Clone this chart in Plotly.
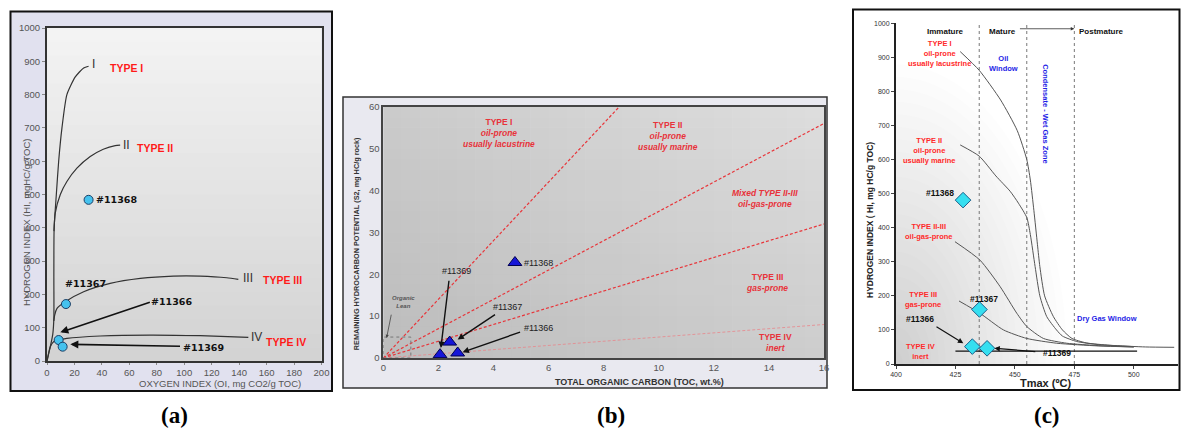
import plotly.graph_objects as go

W, H = 1181, 434

# ---------------- Panel (a) data: HI vs OI ----------------
a_t1_oi = [0, 2.4, 4.2, 5.0, 5.0, 5.2, 6.8, 8.5, 10.9, 14.5, 20.6, 26.7, 30.3]
a_t1_hi = [0, 43, 80, 130, 250, 400, 500, 600, 700, 800, 853, 880, 885]
a_t2_oi = [5.1, 6.0, 9.7, 14.5, 21.8, 31.5, 41, 49.7, 53.3]
a_t2_hi = [390, 444, 500, 539, 579, 614, 636, 647, 648]
a_t3_oi = [5.0, 5.6, 7.3, 13.3, 26.7, 46, 68, 92, 111.5, 131, 139.4]
a_t3_hi = [120, 138, 158, 178, 208, 233, 248, 255, 255, 250, 245]
a_t4_oi = [0, 2.4, 4.8, 8.5, 14.5, 38.8, 75, 111.5, 146.7]
a_t4_hi = [0, 43, 58, 63, 68, 75, 78, 76, 71]
a_samples = ["#11368", "#11367", "#11366", "#11369"]
a_oi = [30.3, 13.8, 8.5, 11.4]
a_hi = [484, 171, 63, 43]

# ---------------- Panel (b) data: S2 vs TOC ----------------
b_bound_x = [8.57, 16, 16, 16]
b_bound_y = [60, 56, 32, 8]
b_samples = ["#11368", "#11367", "#11366", "#11369"]
b_toc = [4.78, 2.41, 2.70, 2.06]
b_s2 = [22.8, 3.8, 1.2, 0.8]

# ---------------- Panel (c) data: HI vs Tmax ----------------
c_t1_x = [427, 435, 444, 451, 455, 456.5, 458, 459.5, 460.5, 462.5, 466.2, 470, 474, 480, 490, 505, 517]
c_t1_y = [917, 862, 775, 685, 600, 540, 450, 350, 286, 200, 139, 100, 75, 62, 55, 50, 49]
c_t2_x = [427, 435, 442, 448, 451.5, 455, 456.5, 458.5, 460.5, 463.4, 467.5, 470, 476, 485, 500]
c_t2_y = [643, 610, 552, 507, 472, 430, 380, 286, 200, 139, 100, 82, 66, 57, 51]
c_t23_x = [424.8, 435.3, 443.8, 450.8, 455, 462, 471.8, 485, 500]
c_t23_y = [359, 305, 227, 149, 110, 75, 61, 54, 50]
c_t3_x = [426.5, 435.3, 445.2, 455, 467.6, 485, 500]
c_t3_y = [185, 149, 100, 75, 61, 53, 50]
c_t4_x = [425, 501.4]
c_t4_y = [38, 38]
c_samples = ["#11368", "#11367", "#11366", "#11369"]
c_tmax = [428.2, 435.1, 432.1, 438.3]
c_hi = [481, 160, 51, 46]
c_zones = [435, 455, 475]


def px(x):
    return x / W


def py(y):
    return 1 - y / H


fig = go.Figure()

# ---- traces panel a ----
curve_a = dict(color="#333333", width=1.2, shape="spline", smoothing=0.6)
for xs, ys in [(a_t1_oi, a_t1_hi), (a_t2_oi, a_t2_hi), (a_t3_oi, a_t3_hi), (a_t4_oi, a_t4_hi)]:
    fig.add_trace(go.Scatter(x=xs, y=ys, mode="lines", line=curve_a, xaxis="x", yaxis="y",
                             showlegend=False, hoverinfo="skip"))
fig.add_trace(go.Scatter(x=a_oi, y=a_hi, mode="markers", xaxis="x", yaxis="y", showlegend=False,
                         marker=dict(symbol="circle", size=9, color="#45c2ee",
                                     line=dict(color="#1b3f66", width=1))))

# ---- traces panel b ----
for bx, by, w, c in zip(b_bound_x, b_bound_y, [1.2, 1.2, 1.2, 0.8],
                        ["#e8353a", "#e8353a", "#e8353a", "#e8858a"]):
    fig.add_trace(go.Scatter(x=[0, bx], y=[0, by], mode="lines", xaxis="x2", yaxis="y2",
                             showlegend=False, hoverinfo="skip",
                             line=dict(color=c, width=w, dash="3px,2px")))
fig.add_trace(go.Scatter(x=b_toc, y=b_s2, mode="markers", xaxis="x2", yaxis="y2", showlegend=False,
                         marker=dict(symbol="triangle-up", size=12, color="#1616d8",
                                     line=dict(color="#000050", width=1))))

# ---- traces panel c ----
for xs, ys in [(c_t1_x, c_t1_y), (c_t2_x, c_t2_y), (c_t23_x, c_t23_y), (c_t3_x, c_t3_y)]:
    fig.add_trace(go.Scatter(x=xs, y=ys, mode="lines", xaxis="x3", yaxis="y3", showlegend=False,
                             hoverinfo="skip",
                             line=dict(color="#555555", width=1, shape="spline", smoothing=0.6)))
fig.add_trace(go.Scatter(x=c_t4_x, y=c_t4_y, mode="lines", xaxis="x3", yaxis="y3", showlegend=False,
                         line=dict(color="#111111", width=1.2)))
fig.add_trace(go.Scatter(x=c_tmax, y=c_hi, mode="markers", xaxis="x3", yaxis="y3", showlegend=False,
                         marker=dict(symbol="diamond", size=12, color="#36dff0",
                                     line=dict(color="#1d5f8a", width=1))))

shapes = []
# outer frames
shapes.append(dict(type="rect", xref="paper", yref="paper", x0=px(10.5), x1=px(332), y0=py(391), y1=py(11.5),
                   fillcolor="#e1e1ef", line=dict(color="#111111", width=2), layer="below"))
shapes.append(dict(type="rect", xref="paper", yref="paper", x0=px(343), x1=px(827), y0=py(388), y1=py(97),
                   fillcolor="#e9e9f0", line=dict(color="#333333", width=1.5), layer="below"))
shapes.append(dict(type="rect", xref="paper", yref="paper", x0=px(853), x1=px(1179.5), y0=py(390), y1=py(9.5),
                   fillcolor="#ffffff", line=dict(color="#111111", width=2), layer="below"))

# gradient panel a plot area (vertical)
n = 24
a_top, a_bot = 28, 361
for i in range(n):
    t = i / (n - 1)
    g = int(round(0xf3 + (0xd3 - 0xf3) * t))
    y0 = a_top + (a_bot - a_top) * i / n
    y1 = a_top + (a_bot - a_top) * (i + 1) / n
    shapes.append(dict(type="rect", xref="paper", yref="paper", x0=px(47), x1=px(321.5),
                       y0=py(y1 + 0.5), y1=py(y0), fillcolor=f"rgb({g},{g},{g})",
                       line=dict(width=0), layer="below"))
# gradient panel b plot area (horizontal + vertical overlay)
b_l, b_r, b_t, b_b = 383.3, 824, 106.7, 358
for i in range(n):
    t = i / (n - 1)
    g = int(round(0xcb + (0xdd - 0xcb) * t))
    x0 = b_l + (b_r - b_l) * i / n
    x1 = b_l + (b_r - b_l) * (i + 1) / n
    shapes.append(dict(type="rect", xref="paper", yref="paper", x0=px(x0), x1=px(x1 + 0.5),
                       y0=py(b_b), y1=py(b_t), fillcolor=f"rgb({g},{g},{g})",
                       line=dict(width=0), layer="below"))
for i in range(n):
    t = i / (n - 1)
    y0 = b_t + (b_b - b_t) * i / n
    y1 = b_t + (b_b - b_t) * (i + 1) / n
    shapes.append(dict(type="rect", xref="paper", yref="paper", x0=px(b_l), x1=px(b_r),
                       y0=py(y1), y1=py(y0), fillcolor=f"rgba(0,0,0,{0.07 * t:.3f})",
                       line=dict(width=0), layer="below"))
# radial gray shading panel c (lower-left)
m = 24
for i in range(m):
    f = 1 - i / m
    shapes.append(dict(type="circle", xref="x3", yref="y3", x0=400 - 72 * f, x1=400 + 72 * f,
                       y0=0 - 880 * f, y1=0 + 880 * f, fillcolor="rgba(0,0,0,0.0095)",
                       line=dict(width=0), layer="below"))
# organic lean box (b)
shapes.append(dict(type="rect", xref="x2", yref="y2", x0=0, x1=1, y0=0, y1=5,
                   line=dict(color="#777777", width=1, dash="dot"), layer="above"))
# zone lines (c)
for z in c_zones:
    shapes.append(dict(type="line", xref="x3", yref="y3", x0=z, x1=z, y0=0, y1=1000,
                       line=dict(color="#777777", width=1, dash="dot"), layer="below"))

fig.update_layout(shapes=shapes)

ann = []


def label(text, x, y, xr, yr, size, color, family="Liberation Sans", bold=True, **kw):
    t = f"<b>{text}</b>" if bold else text
    ann.append(dict(text=t, x=x, y=y, xref=xr, yref=yr, showarrow=False,
                    xanchor="center", yanchor="middle",
                    font=dict(size=size, color=color, family=family), **kw))


def arrow(hx, hy, tx, ty, xr, yr, width=1.6, size=1.0, color="#111111"):
    ann.append(dict(text="", x=hx, y=hy, ax=tx, ay=ty, xref=xr, yref=yr, axref=xr, ayref=yr,
                    showarrow=True, arrowhead=2, arrowsize=size, arrowwidth=width, arrowcolor=color))


# panel a labels
RED = "#ff1a1a"
label("I", 34, 892, "x", "y", 12, "#333333", bold=False)
label("II", 57.6, 648, "x", "y", 12, "#333333", bold=False)
label("III", 146.7, 248, "x", "y", 12, "#333333", bold=False)
label("IV", 153, 73, "x", "y", 12, "#333333", bold=False)
label("TYPE I", 58, 880, "x", "y", 10.5, RED)
label("TYPE II", 79, 641, "x", "y", 10.5, RED)
label("TYPE III", 171.6, 243, "x", "y", 10.5, RED)
label("TYPE IV", 173.8, 58, "x", "y", 10.5, RED)
label("#11368", 50.7, 484, "x", "y", 9.5, "#111111", family="DejaVu Sans")
label("#11367", 28, 234, "x", "y", 9.5, "#111111", family="DejaVu Sans")
label("#11366", 90.4, 180, "x", "y", 9.5, "#111111", family="DejaVu Sans")
label("#11369", 113.7, 40, "x", "y", 9.5, "#111111", family="DejaVu Sans")
arrow(9.7, 86, 76, 178, "x", "y")
arrow(17, 50, 98, 44, "x", "y")

# panel b labels
BRED = "#e8323a"
label("TYPE I<br><i>oil-prone<br>usually lacustrine</i>", 4.2, 53.7, "x2", "y2", 8.5, BRED)
label("TYPE II<br><i>oil-prone<br>usually marine</i>", 10.34, 52.9, "x2", "y2", 8.5, BRED)
label("<i>Mixed TYPE II-III<br>oil-gas-prone</i>", 13.85, 38.2, "x2", "y2", 8.5, BRED)
label("TYPE III<br><i>gas-prone</i>", 13.93, 18.1, "x2", "y2", 8.5, BRED)
label("TYPE IV<br><i>inert</i>", 14.23, 3.6, "x2", "y2", 8.5, BRED)
label("<i>Organic<br>Lean</i>", 0.72, 13.4, "x2", "y2", 6, "#555555")
label("#11368", 5.62, 22.7, "x2", "y2", 9, "#222222", bold=False)
label("#11369", 2.66, 20.7, "x2", "y2", 9, "#222222", bold=False)
label("#11367", 4.51, 12.2, "x2", "y2", 9, "#222222", bold=False)
label("#11366", 5.65, 7.1, "x2", "y2", 9, "#222222", bold=False)
arrow(2.09, 2.4, 2.39, 18.8, "x2", "y2", width=1.4, size=0.9)
arrow(2.7, 4.4, 4.11, 10.6, "x2", "y2", width=1.4, size=0.9)
arrow(2.88, 1.4, 5.02, 6.3, "x2", "y2", width=1.4, size=0.9)
arrow(0.12, 4.8, 0.3, 10.7, "x2", "y2", width=0.8, size=0.8, color="#444444")

# panel c labels
CRED = "#ff2a2a"
BLUE = "#1e1ee6"
label("Immature", 420.9, 976, "x3", "y3", 8, "#111111")
label("Mature", 444.7, 976, "x3", "y3", 8, "#111111")
label("Postmature", 486.3, 976, "x3", "y3", 8, "#111111")
arrow(475, 984, 451.5, 984, "x3", "y3", width=0.8, size=0.9, color="#333333")
label("Oil<br>Window", 445.3, 882, "x3", "y3", 7.5, BLUE)
label("Condensate - Wet Gas Zone", 463.1, 736, "x3", "y3", 7.5, BLUE, textangle=90)
label("Dry Gas Window", 488.9, 134, "x3", "y3", 7.5, BLUE)
label("TYPE I<br>oil-prone<br>usually lacustrine", 418.2, 912, "x3", "y3", 7.5, CRED)
label("TYPE II<br>oil-prone<br>usually marine", 413.9, 628, "x3", "y3", 7.5, CRED)
label("TYPE II-III<br>oil-gas-prone", 414, 388, "x3", "y3", 7.5, CRED)
label("TYPE III<br>gas-prone", 411.2, 188, "x3", "y3", 7.5, CRED)
label("TYPE IV<br>inert", 410.5, 37, "x3", "y3", 7.5, CRED)
label("#11368", 418.5, 503, "x3", "y3", 8.5, "#111111")
label("#11367", 437.2, 190, "x3", "y3", 8.5, "#111111")
label("#11366", 410, 132, "x3", "y3", 8.5, "#111111")
label("#11369", 467.9, 33, "x3", "y3", 8.5, "#111111")
arrow(428.3, 61, 416.4, 112, "x3", "y3", width=1.2, size=0.9)
arrow(441.4, 46, 459.2, 36, "x3", "y3", width=1.2, size=0.9)

# axis titles
label("OXYGEN INDEX (OI, mg CO2/g TOC)", px(220), py(383.5), "paper", "paper", 9.5, "#555555", bold=False)
label("HYDROGEN INDEX (HI, mgHC/g TOC)", px(26), py(222), "paper", "paper", 9.5, "#555555", bold=False,
      textangle=-90)
label("TOTAL ORGANIC CARBON (TOC, wt.%)", px(639), py(381.7), "paper", "paper", 9, "#333333")
label("REMAINING HYDROCARBON POTENTIAL (S2, mg HC/g rock)", px(356.7), py(243.5), "paper", "paper", 7.3,
      "#333333", textangle=-90)
label("Tmax (ºC)", px(1045), py(383), "paper", "paper", 11, "#222222")
label("HYDROGEN INDEX ( HI, mg HC/g TOC)", px(870), py(220), "paper", "paper", 8.5, "#222222",
      textangle=-90)
# captions
for cap, cx in [("(a)", 174), ("(b)", 611), ("(c)", 1047)]:
    label(cap, px(cx), py(415), "paper", "paper", 23, "#000000", family="Liberation Serif")

fig.update_layout(annotations=ann)

tick_a = dict(family="Liberation Sans", size=9.5, color="#555555")
common = dict(showgrid=False, zeroline=False, automargin=False)
fig.update_layout(
    width=W, height=H, margin=dict(l=0, r=0, t=0, b=0, autoexpand=False),
    paper_bgcolor="white", plot_bgcolor="rgba(0,0,0,0)", showlegend=False,
    xaxis=dict(domain=[px(47), px(321.5)], range=[0, 200], dtick=20, anchor="y",
               showline=True, mirror=True, linecolor="#333333", linewidth=2,
               ticks="outside", ticklen=2, tickcolor="#888888", tickfont=tick_a, **common),
    yaxis=dict(domain=[py(361), py(28)], range=[0, 1000], dtick=100, anchor="x",
               showline=True, mirror=True, linecolor="#333333", linewidth=2,
               ticks="outside", ticklen=3, tickcolor="#888888", tickfont=tick_a, **common),
    xaxis2=dict(domain=[px(383.3), px(824)], range=[0, 16], dtick=2, anchor="y2",
                showline=True, mirror=True, linecolor="#444444",
                linewidth=1.5, ticks="", tickfont=dict(family="Liberation Sans", size=9.5, color="#555555"),
                **common),
    yaxis2=dict(domain=[py(358), py(106.7)], range=[0, 60], dtick=10, anchor="x2",
                showline=True, mirror=True, linecolor="#444444",
                linewidth=1.5, ticks="", tickfont=dict(family="Liberation Sans", size=9.5, color="#555555"),
                **common),
    xaxis3=dict(domain=[px(896), px(1178)], range=[400, 518.6], tickvals=[400, 425, 450, 475, 500],
                anchor="y3", showline=True, mirror=False,
                linecolor="#222222", linewidth=2, ticks="outside", ticklen=3, tickcolor="#444444",
                tickfont=dict(family="Liberation Sans", size=7, color="#333333"), **common),
    yaxis3=dict(domain=[py(364), py(23.3)], range=[0, 1000], dtick=100, anchor="x3",
                showline=True, mirror=False,
                linecolor="#222222", linewidth=2, ticks="outside", ticklen=3, tickcolor="#444444",
                tickfont=dict(family="Liberation Sans", size=7, color="#333333"), **common),
)

fig.write_html("out.html", config={"displayModeBar": False},
               post_script="document.body.style.margin='0px';document.body.style.overflow='hidden';")
